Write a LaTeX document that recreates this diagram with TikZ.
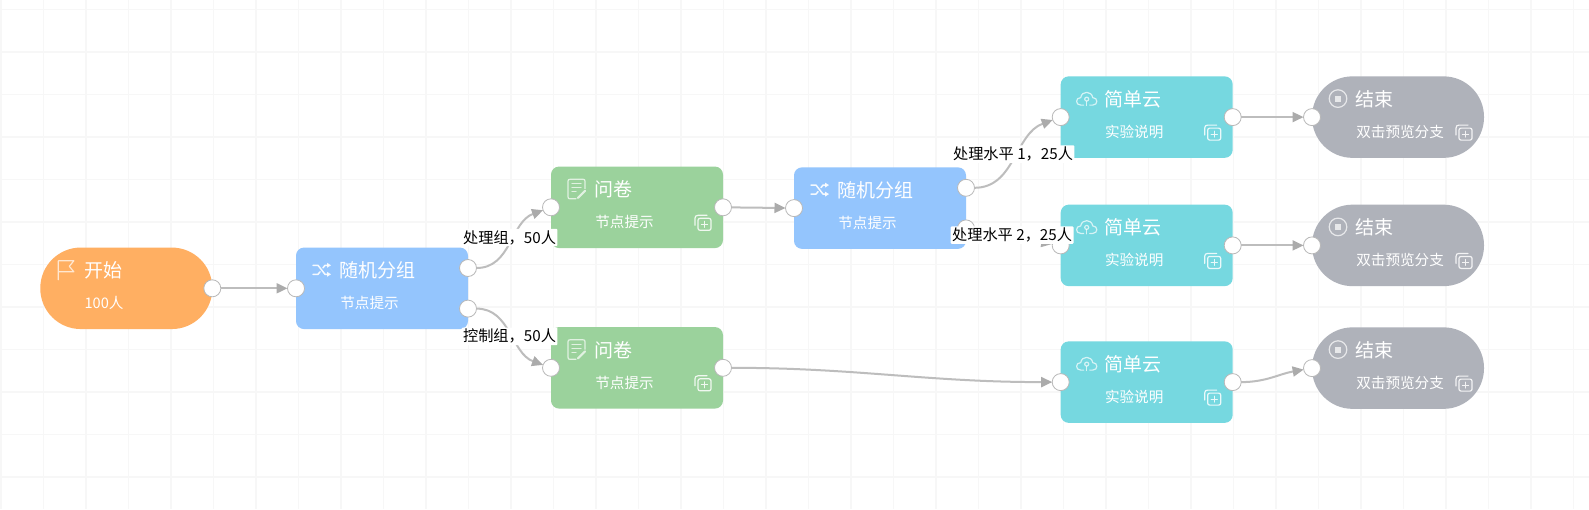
\documentclass[tikz,border=0pt]{standalone}
\usepackage{fontspec}
\setmainfont{Noto Sans CJK SC}
\usepackage{xcolor}
\usetikzlibrary{arrows.meta}
\usetikzlibrary{calc}
\usetikzlibrary{positioning}
\definecolor{cstart}{RGB}{255,175,98}
\definecolor{cblue}{RGB}{148,197,253}
\definecolor{cgreen}{RGB}{155,210,156}
\definecolor{ccyan}{RGB}{118,216,224}
\definecolor{cgrey}{RGB}{175,178,186}
\tikzset{
  iconline/.style={draw=white, draw opacity=.7, line width=1.2pt, line cap=round, line join=round, fill=none},
  flagicon/.pic={
    \draw[iconline] (-8,10) -- (-8,-9) -- (7.5,-9) -- (3,-3.5) -- (7.5,2) -- (-8,2);
  },
  shuffleicon/.pic={
    \draw[iconline, line width=1.5pt, draw opacity=.9] (-9,-4.5) -- (-4,-4.5) -- (3,4.5) -- (6,4.5);
    \draw[iconline, line width=1.5pt, draw opacity=.9] (-9,4.5) -- (-4,4.5) -- (-2,2);
    \draw[iconline, line width=1.5pt, draw opacity=.9] (1,-2) -- (3,-4.5) -- (6,-4.5);
    \fill[white, opacity=.9] (5,-7) -- (9,-4.5) -- (5,-2) -- cycle;
    \fill[white, opacity=.9] (5,2) -- (9,4.5) -- (5,7) -- cycle;
  },
  docicon/.pic={
    \draw[iconline] (-1,10) -- (-7,10) .. controls (-8.5,10) and (-9,9.5) .. (-9,8) -- (-9,-7.5) .. controls (-9,-9) and (-8.5,-9.5) .. (-7,-9.5) -- (6,-9.5) .. controls (7.5,-9.5) and (8,-9) .. (8,-7.5) -- (8,0);
    \draw[iconline] (-5,-5) -- (4,-5) (-5,-1) -- (4,-1) (-5,3) -- (-1,3);
    \draw[iconline, line width=2.2pt] (1,9) -- (8,2);
  },
  cloudicon/.pic={
    \draw[iconline] (-3,6.5) -- (-6,6.5) .. controls (-11.5,6.5) and (-11.5,-1) .. (-6,-1) .. controls (-5,-8) and (5,-8) .. (6,-1) .. controls (11.5,-1) and (11.5,6.5) .. (6,6.5) -- (3,6.5);
    \draw[iconline] (0,7) -- (0,2.5);
    \draw[iconline] (0,.5) circle (2);
  },
  stopicon/.pic={
    \draw[iconline] (0,0) circle (8.8);
    \fill[white, opacity=.7] (-3,-3) rectangle (3,3);
  },
  copyicon/.pic={
    \draw[iconline, draw opacity=.85] (-8,3) -- (-8,-4) .. controls (-8,-6) and (-7,-7) .. (-5,-7) -- (4,-7);
    \draw[iconline, draw opacity=.85, rounded corners=2pt] (-5,-4) rectangle (8,8);
    \draw[iconline, draw opacity=.85] (-1.5,2) -- (4.5,2) (1.5,-1) -- (1.5,5);
  }
}
\begin{document}
\begin{tikzpicture}[x=1pt,y=-1pt,semithick]
	\tikzstyle{gridline}=[draw=black!3, line width=1.3pt]
	\tikzstyle{flowbox}=[minimum width=172pt, minimum height=81.5pt, inner sep=0pt, outer sep=0pt, rounded corners=8pt]
	\tikzstyle{capbox}=[flowbox, rounded corners=40.5pt]
	\tikzstyle{port}=[draw=black!28, fill=white, circle, minimum size=17pt, inner sep=0pt, outer sep=0pt, line width=.8pt]
	\tikzstyle{titletext}=[text=white, font=\fontsize{19pt}{20pt}\selectfont, inner sep=0pt, anchor=west]
	\tikzstyle{subtext}=[text=white, font=\fontsize{14.6pt}{16pt}\selectfont, inner sep=0pt, anchor=west]
	\tikzstyle{edge}=[draw=black!26, line width=2pt, -{Triangle[length=11pt,width=10pt,color=black!33]}]
	\tikzstyle{edgelabel}=[fill=white, text=black, font=\fontsize{15.2pt}{16pt}\selectfont, inner sep=1.5pt, rounded corners=1pt]
	\useasboundingbox (0,0) rectangle (1589,509);
	\fill[white] (0,0) rectangle (1589,509);
	\foreach \i in {0,...,37}{
		\draw[gridline] ({\i*42.5+1},0) -- ({\i*42.5+1},509);
	}
	\foreach \j in {0,...,11}{
		\draw[gridline] (0,{\j*42.5+9.5}) -- (1589,{\j*42.5+9.5});
	}
	% boxes
	\node[capbox, fill=cstart] (S) at (126.3,288.3) {};
	\node[flowbox, fill=cblue] (R1) [right of=S, node distance=255.7pt] {};
	\node[flowbox, fill=cgreen] (Q1) [right of=R1, node distance=255pt, yshift=81pt] {};
	\node[flowbox, fill=cgreen] (Q2) [right of=R1, node distance=255pt, yshift=-79.5pt] {};
	\node[flowbox, fill=cblue] (R2) [right of=Q1, node distance=243pt, yshift=-.8pt] {};
	\node[flowbox, fill=ccyan] (C1) [right of=R2, node distance=266.7pt, yshift=91pt] {};
	\node[flowbox, fill=ccyan] (C2) [right of=R2, node distance=266.7pt, yshift=-37.3pt] {};
	\node[flowbox, fill=ccyan] (C3) [right of=R2, node distance=266.7pt, yshift=-174pt] {};
	\node[capbox, fill=cgrey] (E1) [right of=C1, node distance=251.3pt] {};
	\node[capbox, fill=cgrey] (E2) [right of=C2, node distance=251.3pt] {};
	\node[capbox, fill=cgrey] (E3) [right of=C3, node distance=251.3pt, yshift=14pt] {};
	% texts and icons
	\foreach \b/\t/\s/\ic in {S/开始/100人/flagicon,R1/随机分组/节点提示/shuffleicon,Q1/问卷/节点提示/docicon,Q2/问卷/节点提示/docicon,R2/随机分组/节点提示/shuffleicon,C1/简单云/实验说明/cloudicon,C2/简单云/实验说明/cloudicon,C3/简单云/实验说明/cloudicon,E1/结束/双击预览分支/stopicon,E2/结束/双击预览分支/stopicon,E3/结束/双击预览分支/stopicon}{
		\node[titletext] (\b-title) at ([xshift=43.5pt,yshift=18pt]\b.west) {\t};
		\node[subtext] (\b-sub) at ([xshift=44pt,yshift=-15pt]\b.west) {\s};
		\pic at ([xshift=26pt,yshift=18.5pt]\b.west) {\ic};
	}
	\foreach \b in {Q1,Q2,C1,C2,C3,E1,E2,E3}{
		\pic at ([xshift=-20pt,yshift=-15pt]\b.east) {copyicon};
	}
	% ports
	\node[port] (S-out) at (S.east) {};
	\node[port] (R1-in) at (R1.west) {};
	\node[port] (R1-a) at ([yshift=20.3pt]R1.east) {};
	\node[port] (R1-b) at ([yshift=-20.3pt]R1.east) {};
	\foreach \b in {Q1,Q2,C1,C2,C3}{
		\node[port] (\b-in) at (\b.west) {};
		\node[port] (\b-out) at (\b.east) {};
	}
	\node[port] (R2-in) at (R2.west) {};
	\node[port] (R2-a) at ([yshift=20.3pt]R2.east) {};
	\node[port] (R2-b) at ([yshift=-20.3pt]R2.east) {};
	\foreach \b in {E1,E2,E3}{
		\node[port] (\b-in) at (\b.west) {};
	}
	% edges
	\draw[edge] (S-out) -- (R1-in);
	\draw[edge] (R1-a) to[out=0,in=200] node[edgelabel, xshift=-1pt, yshift=6pt] (L1) {处理组，50人} (Q1-in);
	\draw[edge] (R1-b) to[out=0,in=160] node[edgelabel, xshift=-1pt, yshift=-4pt] (L2) {控制组，50人} (Q2-in);
	\draw[edge] (Q1-out) -- (R2-in);
	\draw[edge] (Q2-out) to[out=0,in=180] (C3-in);
	\draw[edge] (R2-a) to[out=0,in=200] node[edgelabel, xshift=-1.5pt, yshift=5pt] (L3) {处理水平 1，25人} (C1-in);
	\draw[edge] (R2-b) to[out=0,in=170] node[edgelabel, xshift=-1.5pt, yshift=-1pt] (L4) {处理水平 2，25人} (C2-in);
	\draw[edge] (C1-out) -- (E1-in);
	\draw[edge] (C2-out) -- (E2-in);
	\draw[edge] (C3-out) to[out=0,in=190] (E3-in);
\end{tikzpicture}
\end{document}
